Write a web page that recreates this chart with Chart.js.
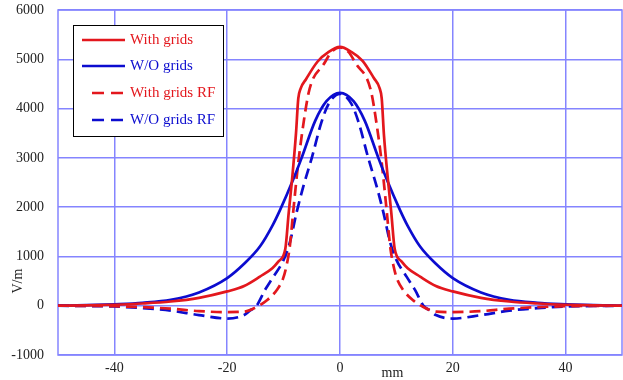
<!DOCTYPE html>
<html>
<head>
<meta charset="utf-8">
<script src="https://cdn.jsdelivr.net/npm/chart.js@4/dist/chart.umd.min.js"></script>
<style>
    html, body { margin: 0; padding: 0; background: #fff; }
    #wrap { width: 623px; height: 380px; }
</style>
</head>
<body>
<div id="wrap"><canvas id="chart" width="623" height="380"></canvas></div>
<script>
// ---- Data ----
const xTicks = [-40, -20, 0, 20, 40];
const yTicks = [-1000, 0, 1000, 2000, 3000, 4000, 5000, 6000];

const xWithGrids = [-50, -45, -40, -35, -30, -25, -20, -17, -14.2, -12, -10.9, -9.7, -9.1, -8.5, -7.8, -7.4, -7, -6, -4, -2, 0,
    2, 4, 6, 7, 7.4, 7.8, 8.5, 9.1, 9.7, 10.9, 12, 14.2, 17, 20, 25, 30, 35, 40, 45, 50];
const yWithGrids = [0, 5, 20, 45, 85, 160, 290, 400, 590, 760, 900, 1150, 1880, 2560, 3500, 4200, 4400, 4600, 4950, 5150, 5250,
    5150, 4970, 4620, 4420, 4200, 3450, 2560, 1880, 1150, 900, 760, 590, 400, 290, 160, 85, 45, 20, 5, 0];

const xNoGrids = [-50, -45, -40, -35, -30, -25, -20, -17, -14.2, -12, -10.6, -8.3, -6.8, -4.4, -2.4, 0,
    2.4, 4.4, 6.8, 8.3, 10.6, 12, 14.2, 17, 20, 25, 30, 35, 40, 45, 50];
const yNoGrids = [0, 10, 30, 60, 120, 270, 560, 850, 1200, 1620, 1950, 2560, 3000, 3750, 4150, 4320,
    4150, 3750, 3000, 2560, 1950, 1620, 1200, 850, 560, 270, 120, 60, 30, 10, 0];

const xWithGridsRF = [-50, -45, -40, -35, -30, -25, -20, -17, -14.7, -12.9, -11.2, -10.1, -9.5, -8.9, -8.3, -7.4, -6.5, -5.6, -4.8, -3, -1.5, 0,
    1.5, 3, 4.8, 5.6, 6.5, 7.4, 8.3, 8.9, 9.5, 10.1, 11.2, 12.9, 14.7, 17, 20, 25, 30, 35, 40, 45, 50];
const yWithGridsRF = [0, -3, -10, -30, -60, -110, -130, -120, -20, 115, 320, 550, 800, 1200, 1900, 2900, 3680, 4300, 4600, 4880, 5150, 5240,
    5150, 4880, 4600, 4300, 3680, 2900, 1900, 1200, 800, 550, 320, 115, -20, -120, -130, -110, -60, -30, -10, -3, 0];

const xNoGridsRF = [-50, -45, -40, -35, -30, -25, -20, -17, -16, -14.8, -13.3, -11.8, -10, -8.9, -7.7, -6.5, -5, -3.3, -2, 0,
    2, 3.3, 5, 6.5, 7.7, 8.9, 10, 11.8, 13.3, 14.8, 16, 17, 20, 25, 30, 35, 40, 45, 50];
const yNoGridsRF = [0, -5, -15, -50, -100, -190, -260, -190, -100, 0, 320, 590, 930, 1280, 1890, 2420, 3000, 3720, 4100, 4300,
    4100, 3720, 3000, 2420, 1890, 1280, 930, 590, 320, 0, -100, -190, -260, -190, -100, -50, -15, -5, 0];

const seriesNames = ['With grids', 'W/O grids', 'With grids RF', 'W/O grids RF'];

// ---- Styles ----
const RED = '#e3171d';
const BLUE = '#0c0ccf';
const GRID = '#8585ff';
const SERIF = "'Liberation Serif', 'Times New Roman', serif";

function toPoints(xs, ys) {
    return xs.map((x, i) => ({ x: x, y: ys[i] }));
}

function makeSet(label, xs, ys, color, dashed) {
    return {
        label: label,
        data: toPoints(xs, ys),
        borderColor: color,
        backgroundColor: color,
        borderWidth: 2.7,
        borderDash: dashed ? [11, 6] : [],
        pointRadius: 0,
        cubicInterpolationMode: 'monotone',
        fill: false
    };
}

// ---- Frame, legend and axis titles ----
const decorPlugin = {
    id: 'decor',
    beforeDatasetsDraw(chart) {
        const { ctx, chartArea: a } = chart;
        ctx.save();
        ctx.strokeStyle = GRID;
        ctx.lineWidth = 1.5;
        ctx.strokeRect(a.left, a.top, a.right - a.left, a.bottom - a.top);
        ctx.restore();
    },
    afterDraw(chart) {
        const { ctx, chartArea: a, scales } = chart;
        ctx.save();

        // legend box
        const bx = a.left + 15, by = a.top + 15, bw = 150, bh = 111;
        ctx.fillStyle = '#fff';
        ctx.fillRect(bx, by, bw, bh);
        ctx.strokeStyle = '#000';
        ctx.lineWidth = 1;
        ctx.strokeRect(bx + 0.5, by + 0.5, bw, bh);

        const colors = [RED, BLUE, RED, BLUE];
        const rows = [15, 41, 68, 95];
        ctx.font = '15px ' + SERIF;
        ctx.textBaseline = 'middle';
        seriesNames.forEach((name, i) => {
            const yy = by + rows[i];
            ctx.strokeStyle = colors[i];
            ctx.lineWidth = 2.7;
            ctx.beginPath();
            if (i < 2) {
                ctx.setLineDash([]);
                ctx.moveTo(bx + 9, yy);
            } else {
                ctx.setLineDash([12, 7]);
                ctx.moveTo(bx + 19, yy);
            }
            ctx.lineTo(bx + 52, yy);
            ctx.stroke();
            ctx.setLineDash([]);
            ctx.fillStyle = colors[i];
            ctx.fillText(name, bx + 57, yy);
        });

        // axis titles
        ctx.fillStyle = '#222';
        ctx.font = '14px ' + SERIF;
        ctx.textAlign = 'center';
        ctx.fillText('mm', scales.x.getPixelForValue(9.3), chart.height - 7);
        ctx.translate(18, scales.y.getPixelForValue(500));
        ctx.rotate(-Math.PI / 2);
        ctx.fillText('V/m', 0, 0);
        ctx.restore();
    }
};

// ---- Chart ----
const ctx = document.getElementById('chart');
new Chart(ctx, {
    type: 'line',
    data: {
        datasets: [
            makeSet(seriesNames[0], xWithGrids, yWithGrids, RED, false),
            makeSet(seriesNames[1], xNoGrids, yNoGrids, BLUE, false),
            makeSet(seriesNames[2], xWithGridsRF, yWithGridsRF, RED, true),
            makeSet(seriesNames[3], xNoGridsRF, yNoGridsRF, BLUE, true)
        ]
    },
    options: {
        responsive: false,
        animation: false,
        devicePixelRatio: 1,
        layout: { padding: { top: 10, right: 1, left: 0, bottom: 0 } },
        plugins: {
            legend: { display: false },
            tooltip: { enabled: false }
        },
        scales: {
            x: {
                type: 'linear',
                min: -50,
                max: 50,
                afterBuildTicks: scale => { scale.ticks = xTicks.map(v => ({ value: v })); },
                afterFit: scale => {
                    scale.height = 25;
                    scale.paddingLeft = 0;
                    scale.paddingRight = 0;
                },
                grid: { color: GRID, lineWidth: 1.5, drawTicks: false },
                border: { display: false },
                ticks: {
                    padding: 5,
                    color: '#222',
                    font: { family: SERIF, size: 14 },
                    maxRotation: 0,
                    callback: v => String(v)
                }
            },
            y: {
                min: -1000,
                max: 6000,
                afterBuildTicks: scale => { scale.ticks = yTicks.map(v => ({ value: v })); },
                afterFit: scale => {
                    scale.width = 58;
                    scale.paddingTop = 0;
                    scale.paddingBottom = 0;
                },
                grid: { color: GRID, lineWidth: 1.5, drawTicks: false },
                border: { display: false },
                ticks: {
                    padding: 14,
                    color: '#222',
                    font: { family: SERIF, size: 14 },
                    callback: v => String(v)
                }
            }
        }
    },
    plugins: [decorPlugin]
});
</script>
</body>
</html>
